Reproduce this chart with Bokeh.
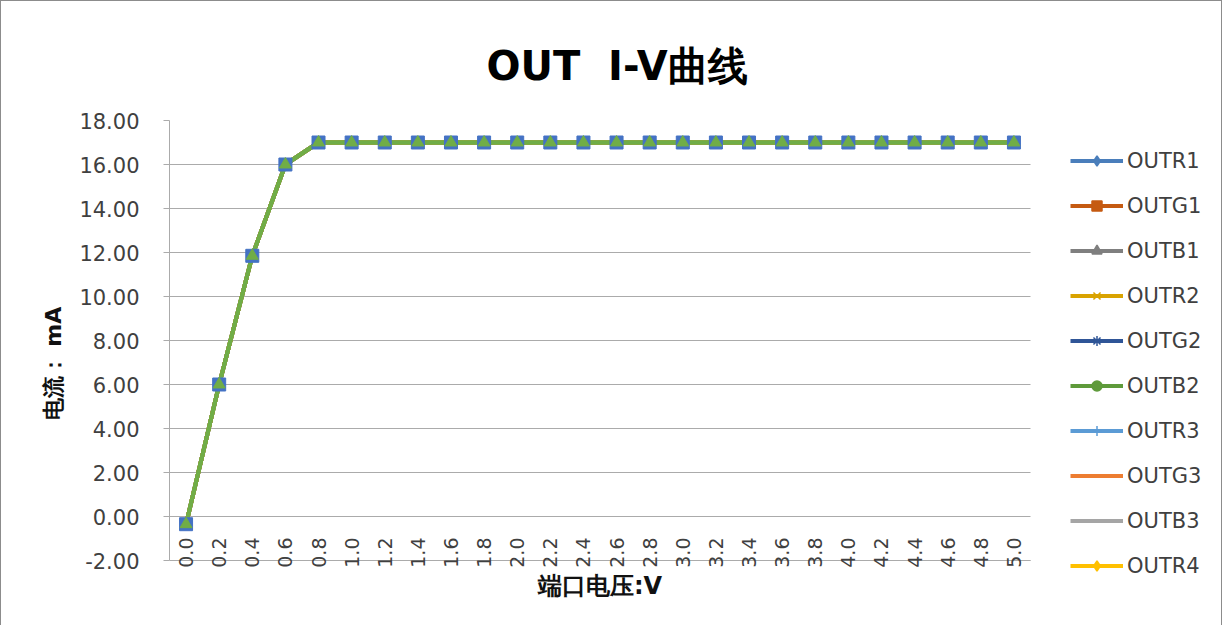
import math
from bokeh.plotting import figure
from bokeh.models import (Range1d, FixedTicker, NumeralTickFormatter,
                          Legend, LegendItem, BoxAnnotation, Label)
from bokeh.embed import file_html
from bokeh.resources import INLINE

# ---------------- data ----------------
voltage_labels = ["0.0", "0.2", "0.4", "0.6", "0.8", "1.0", "1.2", "1.4", "1.6", "1.8",
                  "2.0", "2.2", "2.4", "2.6", "2.8", "3.0", "3.2", "3.4", "3.6", "3.8",
                  "4.0", "4.2", "4.4", "4.6", "4.8", "5.0"]
# all ten outputs overlap exactly in the picture, so they share the same readings
current_ma = [-0.35, 6.00, 11.85, 16.00, 17.00, 17.00, 17.00, 17.00, 17.00, 17.00,
              17.00, 17.00, 17.00, 17.00, 17.00, 17.00, 17.00, 17.00, 17.00, 17.00,
              17.00, 17.00, 17.00, 17.00, 17.00, 17.00]
series_names = ["OUTR1", "OUTG1", "OUTB1", "OUTR2", "OUTG2",
                "OUTB2", "OUTR3", "OUTG3", "OUTB3", "OUTR4"]
series_colors = ["#4A7EBB", "#C55A11", "#7F7F7F", "#D9A300", "#2F5597",
                 "#5E9A3A", "#5B9BD5", "#ED7D31", "#A5A5A5", "#FFC000"]
series_markers = ["diamond", "square", "triangle", "x", "asterisk",
                  "circle", "cross", None, None, "diamond"]
y_ticks = [-2.0, 0.0, 2.0, 4.0, 6.0, 8.0, 10.0, 12.0, 14.0, 16.0, 18.0]

title_text = "OUT\u00a0\u00a0I-V曲线"
x_title = "端口电压:V"
y_title = "电流： mA"

FONT = "DejaVu Sans"
TXT = "#404040"
GRID = "#ABABAB"
BORDER = "1px solid #8c8c8c"

# category positions (one slot per voltage)
x_idx = list(range(len(voltage_labels)))
n_cat = len(voltage_labels)

# layout geometry (pixels)
W, H = 1222, 625
LEFT, TOP, BOTTOM = 168, 119, 20
PLOT_W = 861            # width holding the categories
AXIS_Y_PX = 440         # height from -2 to 18
frame_w = W - LEFT
frame_h = H - TOP - BOTTOM
px_per_cat = PLOT_W / n_cat
px_per_ma = AXIS_Y_PX / (y_ticks[-1] - y_ticks[0])
x_end = -0.5 + frame_w / px_per_cat
y_start = y_ticks[0] - (frame_h - AXIS_Y_PX) / px_per_ma

p = figure(width=W, height=H,
           x_range=Range1d(-0.5, x_end), y_range=Range1d(y_start, y_ticks[-1]),
           output_backend="svg", toolbar_location=None,
           min_border_left=LEFT, min_border_right=0,
           min_border_top=TOP, min_border_bottom=BOTTOM)
p.styles = {"border-top": BORDER, "border-left": BORDER, "border-right": BORDER}
p.outline_line_color = None
p.background_fill_color = "white"
p.border_fill_color = "white"

p.title.text = title_text
p.title.text_font = FONT
p.title.text_font_size = "40px"
p.title.text_font_style = "bold"
p.title.text_color = "#000000"
p.title.align = "left"
p.title.offset = 317
p.title.standoff = 63

ticker = FixedTicker(ticks=y_ticks)
p.yaxis.ticker = ticker
p.yaxis.bounds = (y_ticks[0], y_ticks[-1])
p.yaxis.formatter = NumeralTickFormatter(format="0.00")
p.yaxis.major_tick_out = 6
p.yaxis.major_tick_in = 0
p.yaxis.minor_tick_line_color = None
p.yaxis.major_tick_line_color = GRID
p.yaxis.axis_line_color = GRID
p.yaxis.major_label_standoff = 24
p.yaxis.major_label_text_font = FONT
p.yaxis.major_label_text_font_size = "21px"
p.yaxis.major_label_text_color = TXT
p.yaxis.axis_label = y_title
p.yaxis.axis_label_text_font = FONT
p.yaxis.axis_label_text_font_size = "22px"
p.yaxis.axis_label_text_font_style = "bold"
p.yaxis.axis_label_text_color = "#111111"
p.yaxis.axis_label_standoff = 10

p.xaxis.ticker = FixedTicker(ticks=x_idx)
p.xaxis.major_label_overrides = {i: lab for i, lab in zip(x_idx, voltage_labels)}
p.xaxis.bounds = (-0.5, n_cat - 0.5)
p.xaxis.fixed_location = y_ticks[0]
p.xaxis.major_label_orientation = math.pi / 2
p.xaxis.major_label_standoff = -29
p.xaxis.major_tick_line_color = None
p.xaxis.minor_tick_line_color = None
p.xaxis.axis_line_color = GRID
p.xaxis.major_label_text_font = FONT
p.xaxis.major_label_text_font_size = "19px"
p.xaxis.major_label_text_color = TXT

p.xgrid.grid_line_color = None
p.ygrid.ticker = ticker
p.ygrid.grid_line_color = GRID
p.ygrid.grid_line_width = 1

# plot area ends after the last category: blank out the legend zone
p.add_layout(BoxAnnotation(left=n_cat - 0.5, fill_color="white", fill_alpha=1.0,
                           line_color=None, level="underlay"))

# x-axis title, centred under the categories, 25 px below the axis line
p.add_layout(Label(x=(n_cat - 1) / 2, y=y_ticks[0] - 25 / px_per_ma, text=x_title,
                   text_align="center", text_baseline="middle",
                   text_font=FONT, text_font_size="24px", text_font_style="bold",
                   text_color="#111111"))

# every series plotted (they coincide); OUTB2 drawn last, on top
line_r = {}
for i, name in enumerate(series_names):
    if name != "OUTB2":
        line_r[name] = p.line(x_idx, current_ma, line_color=series_colors[i], line_width=4)
i_b2 = series_names.index("OUTB2")
line_r["OUTB2"] = p.line(x_idx, current_ma, line_color=series_colors[i_b2], line_width=4)
p.line(x_idx, current_ma, line_color="#70AD47", line_width=4)
mark_r = {}
for name, col, mk in zip(series_names, series_colors, series_markers):
    if mk is not None:
        mark_r[name] = p.scatter(x_idx, current_ma, marker=mk, size=9,
                                 fill_color=col, line_color=col, line_width=1.5)
# visible marker stack as in the picture
p.scatter(x_idx, current_ma, marker="square", size=13,
          fill_color="#4472C4", line_color="#4472C4")
p.scatter(x_idx, current_ma, marker="triangle", size=12,
          fill_color="#70AD47", line_color="#70AD47")

items = []
for name in series_names:
    rs = [line_r[name]]
    if name in mark_r:
        rs.append(mark_r[name])
    items.append(LegendItem(label=name, renderers=rs))

legend = Legend(items=items, location=(901, 28), ncols=1,
                glyph_width=53, glyph_height=25,
                label_height=25, spacing=20, padding=0, margin=0,
                border_line_color=None, background_fill_alpha=0,
                label_text_font=FONT, label_text_font_size="21px",
                label_standoff=4, label_text_color=TXT)
p.add_layout(legend)

open("out.html", "w").write(file_html(p, INLINE))
